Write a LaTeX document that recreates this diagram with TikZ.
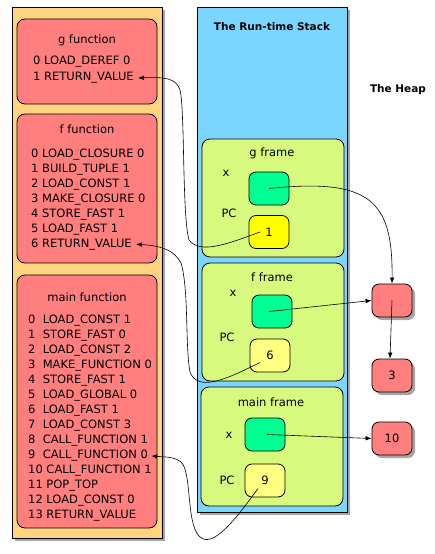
\documentclass[tikz,border=0pt]{standalone}
\usepackage{fontspec}
\setmainfont{DejaVu Sans}
\usetikzlibrary{arrows.meta,shadows}
\definecolor{codebg}{HTML}{FFD47F}
\definecolor{stackbg}{HTML}{7AD6FF}
\definecolor{funcred}{HTML}{FF7F7F}
\definecolor{framegreen}{HTML}{D7F97E}
\definecolor{cellgreen}{HTML}{00FF90}
\definecolor{pcyellow}{HTML}{FFFF00}
\definecolor{pclight}{HTML}{FFFF80}
\begin{document}
\begin{tikzpicture}[x=1pt,y=-1pt,
  font=\fontsize{11.5}{15}\selectfont,
  shade/.style={drop shadow={shadow xshift=3pt,shadow yshift=-3pt,opacity=0.35,fill=black}},
  panel/.style={draw,line width=0.8pt,inner sep=0pt,shade},
  func/.style={draw,line width=0.8pt,fill=funcred,rounded corners=8pt,minimum width=140pt,inner sep=0pt},
  frm/.style={draw,line width=0.8pt,fill=framegreen,rounded corners=8pt,minimum width=142pt,inner sep=0pt},
  cell/.style={draw,line width=0.8pt,rounded corners=7pt,minimum width=40pt,minimum height=33pt,inner sep=0pt},
  heapbox/.style={cell,fill=funcred,shade},
  code/.style={anchor=west,inner sep=0pt},
  arr/.style={-{Latex[length=6pt,width=4.5pt]},line width=0.6pt}]
\useasboundingbox (0,0) rectangle (434,554);
\node [panel,fill=codebg,minimum width=150pt,minimum height=531pt] (code) at (87,272.5) {};
\node [panel,fill=stackbg,minimum width=150pt,minimum height=505pt] (stack) at (272,259.5) {};
\node [font=\fontsize{10.5}{15}\selectfont\bfseries] (stacktitle) at (272,27) {The Run-time Stack};
\node [font=\fontsize{10.5}{15}\selectfont\bfseries] (heaptitle) at (398,90) {The Heap};

\node [func,minimum height=85pt] (gfun) at (87,61.5) {};
\node (gtitle) at (87,40) {g function};
\foreach \t [count=\i from 0] in {0 LOAD\_DEREF 0,1 RETURN\_VALUE}
  \node [code] (g\i) at (33,62+16*\i) {\t};

\node [func,minimum height=149pt] (ffun) at (87,188.5) {};
\node (ftitle) at (87,129) {f function};
\foreach \t [count=\i from 0] in {0 LOAD\_CLOSURE 0,1 BUILD\_TUPLE 1,2 LOAD\_CONST 1,3 MAKE\_CLOSURE 0,4 STORE\_FAST 1,5 LOAD\_FAST 1,6 RETURN\_VALUE}
  \node [code] (f\i) at (31,155+14.85*\i) {\t};

\node [func,minimum height=253pt] (mfun) at (87,401.5) {};
\node (mtitle) at (87,297) {main function};
\foreach \t [count=\i from 0] in {0~~LOAD\_CONST 1,1~~STORE\_FAST 0,2~~LOAD\_CONST 2,3~~MAKE\_FUNCTION 0,4~~STORE\_FAST 1,5~~LOAD\_GLOBAL 0,6~~LOAD\_FAST 1,7~~LOAD\_CONST 3,8~~CALL\_FUNCTION 1,9~~CALL\_FUNCTION 0,10 CALL\_FUNCTION 1,11 POP\_TOP,12 LOAD\_CONST 0,13 RETURN\_VALUE}
  \node [code] (m\i) at (28,321+15*\i) {\t};

\node [frm,minimum height=118pt] (gframe) at (273,198) {};
\node (gftitle) at (272,153) {g frame};
\node (gxlab) at (226,173) {x};
\node [cell,fill=cellgreen] (gx) at (269,188.5) {};
\node (gpclab) at (229,213) {PC};
\node [cell,fill=pcyellow] (gpc) at (269,232) {1};

\node [frm,minimum height=118pt] (fframe) at (273,322) {};
\node (fftitle) at (272,277) {f frame};
\node (fxlab) at (233,293) {x};
\node [cell,fill=cellgreen] (fx) at (272,311.5) {};
\node (fpclab) at (227,337) {PC};
\node [cell,fill=pclight] (fpc) at (270,355.5) {6};

\node [frm,minimum height=119pt] (mframe) at (272,446.5) {};
\node (mftitle) at (271,402) {main frame};
\node (mxlab) at (229,435) {x};
\node [cell,fill=cellgreen] (mx) at (265,434.5) {};
\node (mpclab) at (227,480) {PC};
\node [cell,fill=pclight] (mpc) at (265,480.5) {9};

\node [heapbox] (tup) at (392,300.5) {};
\node [heapbox] (three) at (392,375.5) {3};
\node [heapbox] (ten) at (392,438.5) {10};

\draw [arr] (gx.center) .. controls (370,178) and (393,200) .. (tup.north);
\draw [arr] ([xshift=-3pt]fx.center) -- (tup.west);
\draw [arr] (tup.center) -- ([xshift=-2pt]three.north);
\draw [arr] ([xshift=2pt]mx.center) -- (ten.west);
\draw [arr] ([xshift=-9pt]gpc.center) .. controls (225,245) and (200,254) .. (189,240)
  .. controls (182,215) and (185,110) .. (180,90) .. controls (176,78) and (165,77) .. ([xshift=4pt]g1.east);
\draw [arr] ([xshift=-10pt,yshift=-7pt]fpc.center) .. controls (225,380) and (198,392) .. (190,372)
  .. controls (185,345) and (189,290) .. (181,263) .. controls (174,250) and (162,246) .. ([xshift=4pt]f6.east);
\draw [arr] ([xshift=-7pt,yshift=-8pt]mpc.center) .. controls (235,520) and (212,550) .. (199,536)
  .. controls (186,522) and (192,472) .. (181,462) .. controls (175,457) and (166,457) .. ([xshift=3pt]m9.east);
\end{tikzpicture}
\end{document}
